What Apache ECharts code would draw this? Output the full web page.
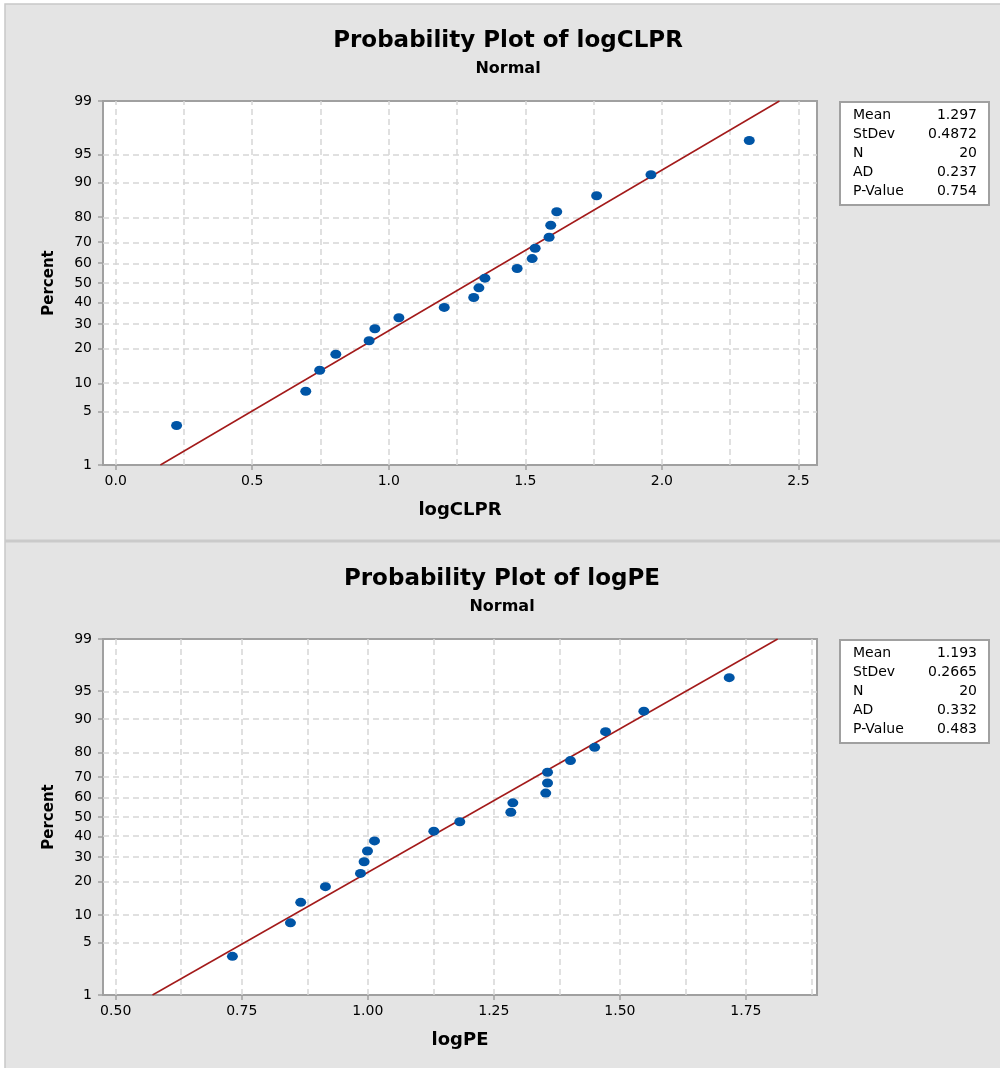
<!DOCTYPE html>
<html><head><meta charset="utf-8">
<script src="https://cdn.jsdelivr.net/npm/echarts@6/dist/echarts.min.js"></script>
<style>html,body{margin:0;padding:0;background:#fff}#c{width:1000px;height:1068px}</style>
</head><body><div id="c"></div>
<script>
// ---- data ----
const percents = [3.43, 8.33, 13.24, 18.14, 23.04, 27.94, 32.84, 37.75, 42.65, 47.55,
                  52.45, 57.35, 62.25, 67.16, 72.06, 76.96, 81.86, 86.76, 91.67, 96.57];
const clprValues = [0.223, 0.696, 0.747, 0.806, 0.928, 0.949, 1.037, 1.203, 1.311, 1.330,
                    1.352, 1.470, 1.525, 1.536, 1.587, 1.593, 1.615, 1.761, 1.960, 2.320];
const peValues = [0.7315, 0.8466, 0.867, 0.916, 0.9855, 0.9927, 0.9994, 1.0133, 1.131, 1.1825,
                  1.2837, 1.2877, 1.353, 1.3565, 1.3565, 1.402, 1.450, 1.4716, 1.5476, 1.7169];
const yTickPercents = [1, 5, 10, 20, 30, 40, 50, 60, 70, 80, 90, 95, 99];
const yGridPercents = [5, 10, 20, 30, 40, 50, 60, 70, 80, 90, 95];
const clprXTicks = [0, 0.5, 1.0, 1.5, 2.0, 2.5];
const clprXGrid = [0, 0.25, 0.5, 0.75, 1.0, 1.25, 1.5, 1.75, 2.0, 2.25, 2.5];
const peXTicks = [0.5, 0.75, 1.0, 1.25, 1.5, 1.75];
const peXGrid = [0.5, 0.625, 0.75, 0.875, 1.0, 1.125, 1.25, 1.375, 1.5, 1.625, 1.75, 1.875];
const statLabels = ['Mean', 'StDev', 'N', 'AD', 'P-Value'];
const clprStats = ['1.297', '0.4872', '20', '0.237', '0.754'];
const peStats = ['1.193', '0.2665', '20', '0.332', '0.483'];
const clprMean = 1.297, clprSd = 0.4872;
const peMean = 1.193, peSd = 0.2665;

// ---- normal probability scale ----
function invNorm(p) {
  const a = [-3.969683028665376e+01, 2.209460984245205e+02, -2.759285104469687e+02, 1.383577518672690e+02, -3.066479806614716e+01, 2.506628277459239e+00];
  const b = [-5.447609879822406e+01, 1.615858368580409e+02, -1.556989798598866e+02, 6.680131188771972e+01, -1.328068155288572e+01];
  const c = [-7.784894002430293e-03, -3.223964580411365e-01, -2.400758277161838e+00, -2.549671348283420e+00, 4.374664141464968e+00, 2.938163982698783e+00];
  const d = [7.784695709041462e-03, 3.224671290700398e-01, 2.445134137142996e+00, 3.754408661907416e+00];
  const pl = 0.02425;
  let q, r;
  if (p < pl) {
    q = Math.sqrt(-2 * Math.log(p));
    return (((((c[0]*q+c[1])*q+c[2])*q+c[3])*q+c[4])*q+c[5]) / ((((d[0]*q+d[1])*q+d[2])*q+d[3])*q+1);
  } else if (p <= 1 - pl) {
    q = p - 0.5; r = q*q;
    return (((((a[0]*r+a[1])*r+a[2])*r+a[3])*r+a[4])*r+a[5])*q / (((((b[0]*r+b[1])*r+b[2])*r+b[3])*r+b[4])*r+1);
  } else {
    q = Math.sqrt(-2 * Math.log(1 - p));
    return -(((((c[0]*q+c[1])*q+c[2])*q+c[3])*q+c[4])*q+c[5]) / ((((d[0]*q+d[1])*q+d[2])*q+d[3])*q+1);
  }
}
const zOf = pc => invNorm(pc / 100);
const zLo = zOf(1), zHi = zOf(99);
const yTickZ = yTickPercents.map(zOf);
function yLabel(v) {
  let best = 0, bd = 1e9;
  yTickZ.forEach((z, i) => { const dd = Math.abs(z - v); if (dd < bd) { bd = dd; best = i; } });
  return String(yTickPercents[best]);
}

const FONT = 'DejaVu Sans';
const axisGray = '#a0a0a0';
const gridStyle = { color: '#d6d6d6', width: 1.5, type: [6, 4] };

function xAxisDef(idx, min, max, ticks, digits, name) {
  return {
    type: 'value', gridIndex: idx, min: min, max: max,
    axisLine: { show: true, onZero: false, lineStyle: { color: axisGray, width: 2 } },
    axisTick: { show: true, length: 5, customValues: ticks, lineStyle: { color: axisGray, width: 1.5 } },
    axisLabel: { customValues: ticks, margin: 9, color: '#000', fontFamily: FONT, fontSize: 14,
                 formatter: v => v.toFixed(digits) },
    splitLine: { show: false },
    name: name, nameLocation: 'middle', nameGap: 36,
    nameTextStyle: { color: '#000', fontFamily: FONT, fontSize: 18, fontWeight: 'bold' }
  };
}
function yAxisDef(idx) {
  return {
    type: 'value', gridIndex: idx, min: zLo, max: zHi,
    axisLine: { show: true, onZero: false, lineStyle: { color: axisGray, width: 2 } },
    axisTick: { show: true, length: 5, customValues: yTickZ, lineStyle: { color: axisGray, width: 1.5 } },
    axisLabel: { customValues: yTickZ, margin: 11, color: '#000', fontFamily: FONT, fontSize: 14,
                 formatter: yLabel },
    splitLine: { show: false },
    name: 'Percent', nameLocation: 'middle', nameGap: 46, nameRotate: 90,
    nameTextStyle: { color: '#000', fontFamily: FONT, fontSize: 15, fontWeight: 'bold' }
  };
}
function gridSeries(idx, xs) {
  const data = xs.map(v => ({ xAxis: v })).concat(yGridPercents.map(p => ({ yAxis: zOf(p) })));
  return {
    type: 'line', xAxisIndex: idx, yAxisIndex: idx, data: [], z: 1, silent: true,
    markLine: { z: 1, silent: true, symbol: ['none', 'none'], label: { show: false },
                lineStyle: gridStyle, emphasis: { disabled: true }, animation: false, data: data }
  };
}
function fitSeries(idx, mean, sd) {
  return {
    type: 'line', xAxisIndex: idx, yAxisIndex: idx, z: 3, silent: true, symbol: 'none',
    lineStyle: { color: '#a31a1a', width: 1.5 },
    data: [[mean + sd * zLo, zLo], [mean + sd * zHi, zHi]]
  };
}
function pointSeries(idx, xs) {
  return {
    type: 'scatter', xAxisIndex: idx, yAxisIndex: idx, z: 4, silent: true,
    symbol: 'circle', symbolSize: [11, 9], itemStyle: { color: '#0055a6', opacity: 1 },
    data: xs.map((v, i) => [v, zOf(percents[i])])
  };
}
function statsBox(x, y, values) {
  const els = [{ type: 'rect', z: 10, shape: { x: x, y: y, width: 149, height: 103 },
                 style: { fill: '#fff', stroke: axisGray, lineWidth: 2 } }];
  statLabels.forEach((lab, i) => {
    const cy = y + 13.5 + i * 19;
    els.push({ type: 'text', z: 11, style: { x: x + 13, y: cy, text: lab, fill: '#000',
               font: '14px "' + FONT + '"', align: 'left', verticalAlign: 'middle' } });
    els.push({ type: 'text', z: 11, style: { x: x + 137, y: cy, text: values[i], fill: '#000',
               font: '14px "' + FONT + '"', align: 'right', verticalAlign: 'middle' } });
  });
  return els;
}
function titleEls(cx, y0, text) {
  return [
    { type: 'text', z: 5, style: { x: cx, y: y0, text: text, fill: '#000',
      font: 'bold 23px "' + FONT + '"', align: 'center', verticalAlign: 'middle' } },
    { type: 'text', z: 5, style: { x: cx, y: y0 + 28, text: 'Normal', fill: '#000',
      font: 'bold 16px "' + FONT + '"', align: 'center', verticalAlign: 'middle' } }
  ];
}

const chart = echarts.init(document.getElementById('c'), null, { renderer: 'canvas' });
chart.setOption({
  animation: false,
  backgroundColor: '#ffffff',
  graphic: { elements: [
    { type: 'rect', z: -10, shape: { x: 5, y: 4, width: 1000, height: 1070 },
      style: { fill: '#e4e4e4', stroke: '#c8c8c8', lineWidth: 1.5 } },
    { type: 'rect', z: -9, shape: { x: 5, y: 539.5, width: 995, height: 3 },
      style: { fill: '#cacaca' } }
  ].concat(titleEls(508, 41, 'Probability Plot of logCLPR'))
   .concat(titleEls(502, 579, 'Probability Plot of logPE'))
   .concat(statsBox(840, 102, clprStats))
   .concat(statsBox(840, 640, peStats)) },
  grid: [
    { left: 103, top: 101, width: 714, height: 364, show: true, backgroundColor: '#fff',
      borderColor: axisGray, borderWidth: 2 },
    { left: 103, top: 639, width: 714, height: 356, show: true, backgroundColor: '#fff',
      borderColor: axisGray, borderWidth: 2 }
  ],
  xAxis: [
    xAxisDef(0, -0.0465, 2.568, clprXTicks, 1, 'logCLPR'),
    xAxisDef(1, 0.4748, 1.891, peXTicks, 2, 'logPE')
  ],
  yAxis: [yAxisDef(0), yAxisDef(1)],
  series: [
    gridSeries(0, clprXGrid), fitSeries(0, clprMean, clprSd), pointSeries(0, clprValues),
    gridSeries(1, peXGrid), fitSeries(1, peMean, peSd), pointSeries(1, peValues)
  ]
});
</script></body></html>
